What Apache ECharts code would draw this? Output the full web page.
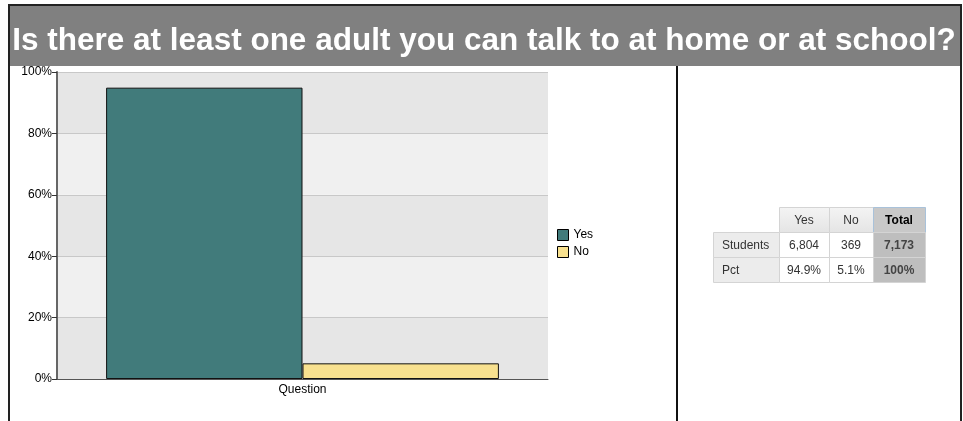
<!DOCTYPE html>
<html>
<head>
<meta charset="utf-8">
<script src="https://cdn.jsdelivr.net/npm/echarts@6/dist/echarts.min.js"></script>
<style>
  html, body { margin: 0; padding: 0; background: #fff; }
  #main { width: 963px; height: 421px; }
</style>
</head>
<body>
<div id="main"></div>
<script>
var titleText = 'Is there at least one adult you can talk to at home or at school?';
var categories = ['Question'];
var answers = ['Yes', 'No'];
var pctValues = [94.9, 5.1];
var studentCounts = ['6,804', '369'];
var pctLabels = ['94.9%', '5.1%'];
var totalLabels = ['7,173', '100%'];
var rowNames = ['Students', 'Pct'];
var yTicks = [0, 20, 40, 60, 80, 100];

var barColors = ['#417b7b', '#f8e18f'];
var font = 'Liberation Sans, Arial, sans-serif';

var myChart = echarts.init(document.getElementById('main'));

// table on the right, drawn as graphic cells
var colX = [713, 779, 829, 873, 925];
var rowY = [207, 232, 257, 282];
var tableRows = [
  [''].concat(answers, ['Total']),
  [rowNames[0]].concat(studentCounts, [totalLabels[0]]),
  [rowNames[1]].concat(pctLabels, [totalLabels[1]])
];
var cells = [];
for (var r = 0; r < tableRows.length; r++) {
  for (var c = 0; c < tableRows[r].length; c++) {
    if (r === 0 && c === 0) continue;
    var fill = '#ffffff';
    var txtColor = '#333';
    var bold = 'normal';
    var stroke = '#d4d4d4';
    if (r === 0) fill = new echarts.graphic.LinearGradient(0, 0, 0, 1, [{offset: 0, color: '#f4f4f4'}, {offset: 1, color: '#e4e4e4'}]);
    if (c === 0) fill = '#ececec';
    if (c === 3) { fill = '#bebebe'; bold = 'bold'; txtColor = '#444'; }
    if (r === 0 && c === 3) { fill = '#c8c8c8'; stroke = '#a9c2da'; txtColor = '#000'; }
    var x0 = colX[c], x1 = colX[c + 1], y0 = rowY[r], y1 = rowY[r + 1];
    cells.push({
      type: 'rect',
      shape: { x: x0 + 0.5, y: y0 + 0.5, width: x1 - x0, height: y1 - y0 },
      style: { fill: fill, stroke: stroke, lineWidth: 1 },
      z: 10
    });
    cells.push({
      type: 'text',
      x: c === 0 ? x0 + 9 : (x0 + x1) / 2,
      y: (y0 + y1) / 2 + 1,
      style: {
        text: tableRows[r][c],
        fill: txtColor,
        font: bold + ' 12px ' + font,
        align: c === 0 ? 'left' : 'center',
        verticalAlign: 'middle'
      },
      z: 11
    });
  }
}

var option = {
  animation: false,
  textStyle: { fontFamily: font },
  graphic: [
    {
      type: 'rect',
      shape: { x: 9, y: 5, width: 952, height: 61 },
      style: { fill: '#808080' },
      z: 1
    },
    {
      type: 'rect',
      shape: { x: 9, y: 5, width: 952, height: 440 },
      style: { fill: 'none', stroke: '#222', lineWidth: 2 },
      z: 2
    },
    {
      type: 'line',
      shape: { x1: 677, y1: 66, x2: 677, y2: 421 },
      style: { stroke: '#111', lineWidth: 2 },
      z: 2
    },
    {
      type: 'text',
      x: 484,
      y: 41,
      style: {
        text: titleText,
        fill: '#fff',
        font: 'bold 31.5px ' + font,
        align: 'center',
        verticalAlign: 'middle'
      },
      z: 3
    }
  ].concat(cells),
  grid: { left: 57, right: 415, top: 72, bottom: 42 },
  legend: {
    orient: 'vertical',
    left: 552,
    top: 224,
    itemWidth: 11,
    itemHeight: 11,
    itemGap: 5,
    icon: 'rect',
    data: answers,
    itemStyle: { borderColor: '#000', borderWidth: 1 },
    textStyle: { fontSize: 12, color: '#000', fontFamily: font }
  },
  xAxis: {
    type: 'category',
    data: categories,
    axisLine: { lineStyle: { color: '#555', width: 1 } },
    axisTick: { alignWithLabel: true, length: 6, lineStyle: { color: '#333' } },
    axisLabel: { color: '#000', fontSize: 12, margin: 5, fontFamily: font }
  },
  yAxis: {
    type: 'value',
    min: yTicks[0],
    max: yTicks[yTicks.length - 1],
    interval: 20,
    axisLine: { show: true, lineStyle: { color: '#666', width: 2 } },
    axisTick: { show: true, length: 5, lineStyle: { color: '#333' } },
    axisLabel: { formatter: '{value}%', color: '#000', fontSize: 12, margin: 5, fontFamily: font },
    splitLine: { show: true, lineStyle: { color: '#c8c8c8' } },
    splitArea: { show: true, areaStyle: { color: ['#e6e6e6', '#f0f0f0'] } }
  },
  series: answers.map(function (name, i) {
    return {
      name: name,
      type: 'bar',
      data: [pctValues[i]],
      barGap: 0,
      barCategoryGap: '20%',
      itemStyle: { color: barColors[i], borderColor: '#111', borderWidth: 1 }
    };
  })
};

myChart.setOption(option);
</script>
</body>
</html>
